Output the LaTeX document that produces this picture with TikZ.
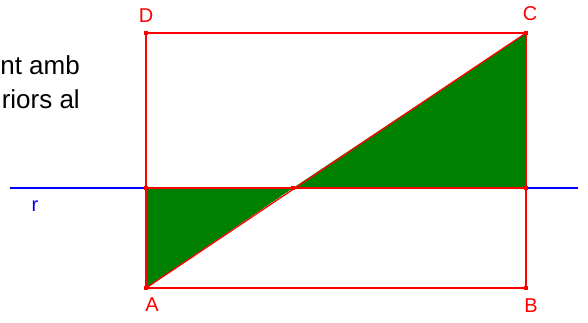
\documentclass[tikz,border=0pt]{standalone}
\usepackage{fontspec}
\setmainfont{Liberation Sans}
\definecolor{fillgreen}{RGB}{0,128,0}
\definecolor{segred}{RGB}{255,0,0}
\definecolor{lineblue}{RGB}{0,0,255}
\begin{document}
\begin{tikzpicture}[x=1pt,y=-1pt,
  seg/.style={draw=segred,line width=1.3pt},
  pt/.style={fill=segred,minimum size=4pt,inner sep=0pt,rectangle},
  lbl/.style={text=segred,font=\fontsize{20}{20}\selectfont,inner sep=0pt},
  txt/.style={font=\fontsize{26}{26}\selectfont,inner sep=0pt,anchor=base east}]
\useasboundingbox (0,0) rectangle (588,322);
% coordinates
\coordinate (A) at (146,288);
\coordinate (B) at (526,288);
\coordinate (C) at (526,33);
\coordinate (D) at (146,33);
\coordinate (E) at (146,188);
\coordinate (F) at (526,188);
\coordinate (M) at (293,188);
\coordinate (rL) at (10,188);
\coordinate (rR) at (578,188);
% text
\node[txt] (t1) at (80,74) {nt amb};
\node[txt] (t2) at (80,108) {riors al};
% line r
\draw[lineblue,line width=1.5pt] (rL) -- (rR);
\node[text=lineblue,font=\fontsize{20}{20}\selectfont,inner sep=0pt] (rlab) at (35,206) {r};
% triangles
\fill[fillgreen] (A) -- (E) -- (M) -- cycle;
\fill[fillgreen] (M) -- (F) -- (C) -- cycle;
% rectangle and segments
\draw[seg] (A) -- (B) -- (C) -- (D) -- cycle;
\draw[seg] (E) -- (F);
\draw[seg] (A) -- (C);
% points
\foreach \p in {A,B,C,D,E,F,M} \node[pt] at (\p) {};
% labels
\node[lbl] (lD) at (146,16) {D};
\node[lbl] (lC) at (530,14) {C};
\node[lbl] (lA) at (152,305) {A};
\node[lbl] (lB) at (531,306) {B};
\end{tikzpicture}
\end{document}
